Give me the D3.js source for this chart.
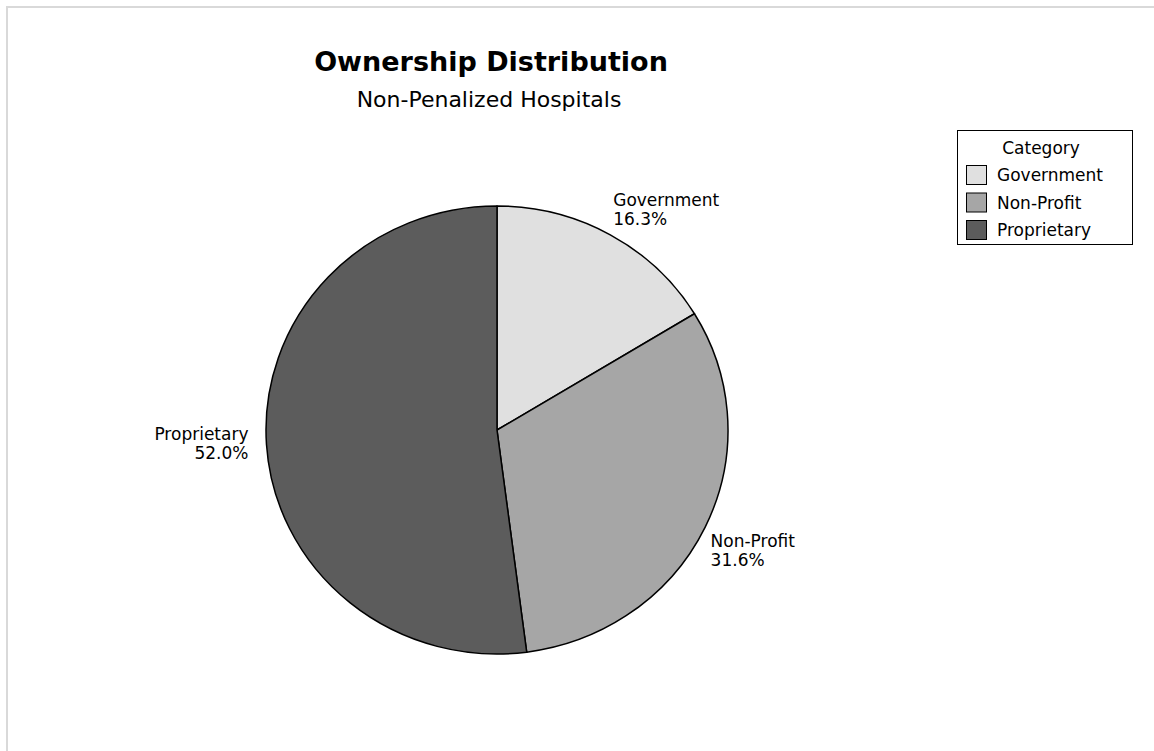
<!DOCTYPE html>
<html>
<head>
<meta charset="utf-8">
<script src="https://cdn.jsdelivr.net/npm/d3@7"></script>
<style>
  html, body { margin: 0; padding: 0; background: #fff; }
  svg { display: block; font-family: "DejaVu Sans", Verdana, sans-serif; }
</style>
</head>
<body>
<svg id="chart" width="1154" height="751"></svg>
<script>
// Ownership shares of non-penalized hospitals (percent)
const categories = ["Government", "Non-Profit", "Proprietary"];
const shares = [16.3, 31.6, 52.0];
const fills = ["#e0e0e0", "#a6a6a6", "#5c5c5c"];

const svg = d3.select("#chart");
const W = 1154, H = 751;

// Frame around the plot area
svg.append("rect")
  .attr("x", 7).attr("y", 7)
  .attr("width", W + 20).attr("height", H + 20)
  .attr("fill", "#fff")
  .attr("stroke", "#d9d9d9")
  .attr("stroke-width", 2);

// Titles
svg.append("text")
  .attr("x", 491).attr("y", 71)
  .attr("text-anchor", "middle")
  .attr("font-weight", "bold")
  .attr("font-size", 27)
  .attr("fill", "#000")
  .text("Ownership Distribution");
svg.append("text")
  .attr("x", 489).attr("y", 107)
  .attr("text-anchor", "middle")
  .attr("font-size", 22)
  .attr("fill", "#000")
  .text("Non-Penalized Hospitals");

// Pie geometry (slightly wider than tall)
const cx = 497, cy = 430, rx = 231, ry = 224;
const pie = d3.pie().sort(null).value(d => d.value);
const data = categories.map((c, i) => ({ name: c, value: shares[i], fill: fills[i] }));
const arcs = pie(data);
const arc = d3.arc().innerRadius(0).outerRadius(rx);

const pieG = svg.append("g")
  .attr("transform", `translate(${cx},${cy}) scale(1,${ry / rx})`);
pieG.selectAll("path")
  .data(arcs)
  .join("path")
  .attr("d", arc)
  .attr("fill", d => d.data.fill)
  .attr("stroke", "#000")
  .attr("stroke-width", 1.5)
  .attr("stroke-linejoin", "round")
  .attr("vector-effect", "non-scaling-stroke");

// Slice labels placed just outside the rim at each slice's mid-angle
const fmt = d3.format(".1f");
const labelFont = 17, lineH = 19;
const pad = 6;
arcs.forEach(d => {
  const a = (d.startAngle + d.endAngle) / 2;
  const c = Math.cos(a), s = Math.sin(a);
  let px = cx + (rx + pad) * s;
  const py = cy - (ry + pad) * c;
  const anchor = s >= 0 ? "start" : "end";
  if (anchor === "end") px -= 12;
  // first baseline depending on whether the label sits above, below or beside the pie
  let y0;
  if (c > 0.3) y0 = py - 24;          // block ends at the rim point
  else if (c < -0.3) y0 = py + 17.5;  // block starts at the rim point
  else y0 = py - 5;                   // roughly centred beside the rim
  const t = svg.append("text")
    .attr("text-anchor", anchor)
    .attr("font-size", labelFont)
    .attr("fill", "#000");
  t.append("tspan").attr("x", px).attr("y", y0).text(d.data.name);
  t.append("tspan").attr("x", px).attr("y", y0 + lineH).text(fmt(d.data.value) + "%");
});

// Legend
const lg = svg.append("g");
lg.append("rect")
  .attr("x", 957.5).attr("y", 130.5)
  .attr("width", 175).attr("height", 114)
  .attr("fill", "#fff")
  .attr("stroke", "#000")
  .attr("stroke-width", 1);
lg.append("text")
  .attr("x", 1041).attr("y", 154)
  .attr("text-anchor", "middle")
  .attr("font-size", 17)
  .text("Category");
const rowY = d3.scalePoint().domain(categories).range([175, 230]);
categories.forEach((c, i) => {
  const y = rowY(c);
  lg.append("rect")
    .attr("x", 966.5).attr("y", y - 9.5)
    .attr("width", 20).attr("height", 19)
    .attr("fill", fills[i])
    .attr("stroke", "#000")
    .attr("stroke-width", 1);
  lg.append("text")
    .attr("x", 997).attr("y", y + 6)
    .attr("font-size", 17)
    .text(c);
});
</script>
</body>
</html>
